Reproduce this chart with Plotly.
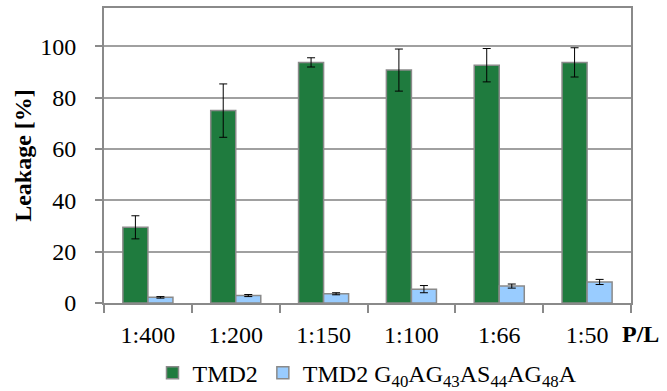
import plotly.graph_objects as go

# P/L ratios and leakage results
ratios = ["1:400", "1:200", "1:150", "1:100", "1:66", "1:50"]
tmd2_leak = [29.5, 75.0, 93.8, 90.8, 92.7, 93.8]
tmd2_err = [4.5, 10.4, 1.8, 8.2, 6.5, 5.7]
mut_leak = [2.2, 2.9, 3.6, 5.4, 6.6, 8.2]
mut_err = [0.3, 0.4, 0.4, 1.4, 0.8, 1.0]
y_ticks = [0, 20, 40, 60, 80, 100]

serif = "Liberation Serif"
edge = dict(color="#8a8a8a", width=1.5)

fig = go.Figure()
fig.add_trace(go.Bar(
    x=ratios, y=tmd2_leak, name="TMD2",
    marker=dict(color="#1f7b3e", line=edge),
    error_y=dict(type="data", array=tmd2_err, color="black", thickness=1, width=4),
))
fig.add_trace(go.Bar(
    x=ratios, y=mut_leak,
    name="TMD2 G<sub>40</sub>AG<sub>43</sub>AS<sub>44</sub>AG<sub>48</sub>A",
    marker=dict(color="#99ccff", line=edge),
    error_y=dict(type="data", array=mut_err, color="black", thickness=1, width=4),
))

fig.update_layout(
    width=667, height=391,
    margin=dict(l=104, r=36, t=8, b=88, autoexpand=False),
    paper_bgcolor="white", plot_bgcolor="white",
    barmode="group", bargap=0.43, bargroupgap=0,
    font=dict(family=serif, size=24, color="black"),
    showlegend=True,
    legend=dict(orientation="h", x=0.5, xanchor="center", y=-0.238, yanchor="middle",
                font=dict(family=serif, size=24), itemwidth=30, tracegroupgap=0),
    xaxis=dict(
        showline=True, linecolor="#8a8a8a", linewidth=2, mirror=True,
        ticks="outside", tickson="boundaries", ticklen=8, tickcolor="#8a8a8a", tickwidth=1.5,
        showgrid=False, tickfont=dict(family=serif, size=24), ticklabelstandoff=9,
    ),
    yaxis=dict(
        range=[0, 115], tickvals=y_ticks,
        showline=True, linecolor="#8a8a8a", linewidth=2, mirror=True,
        ticks="outside", ticklen=7, tickcolor="#8a8a8a", tickwidth=1.5,
        showgrid=True, gridcolor="#a0a0a0", gridwidth=1.5,
        zeroline=False, tickfont=dict(family=serif, size=24), ticklabelstandoff=14,
        title=dict(text="<b>Leakage [%]</b>", standoff=2, font=dict(family=serif, size=24)),
    ),
    annotations=[dict(
        text="<b>P/L</b>", xref="paper", yref="paper",
        x=1.018, y=-0.105, xanchor="center", yanchor="middle",
        showarrow=False, font=dict(family=serif, size=24),
    )],
)

fig.write_html("out.html")
